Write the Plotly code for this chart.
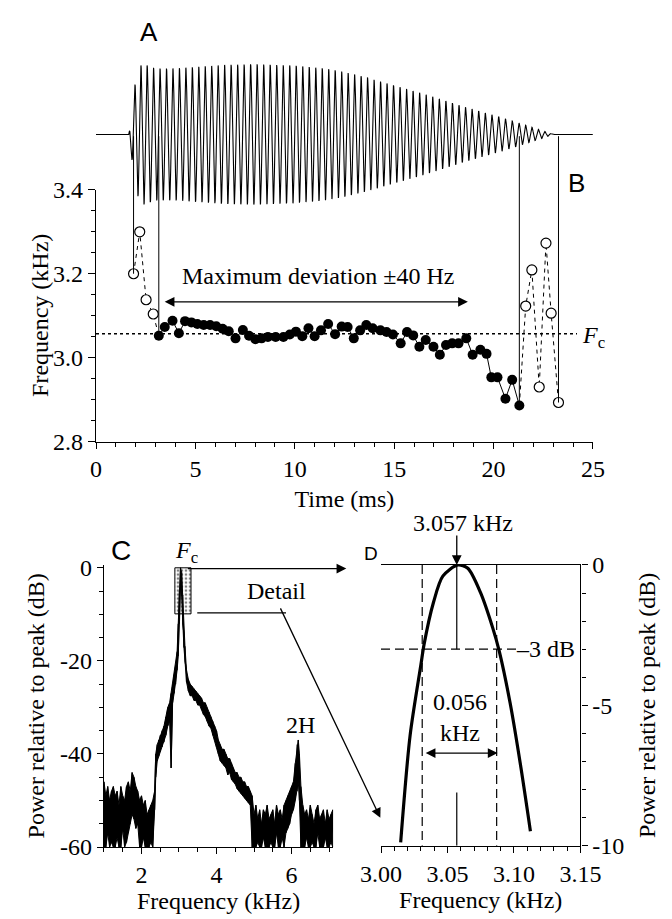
import numpy as np
import plotly.graph_objects as go

W, H = 672, 919
SERIF = "Liberation Serif"
SANS = "Liberation Sans"
FS = 24


def px(x):
    return x / W


def py(y):
    return 1 - y / H


# ---------------- Panel A: waveform envelope ----------------
env_t = [0.0, 1.65, 1.80, 2.00, 2.30, 3.0, 4.0, 5.0, 6.5, 8.0, 10.0, 11.5, 12.5,
         13.5, 14.5, 15.5, 16.5, 17.5, 18.5, 19.5, 20.5, 21.5, 22.5, 23.0, 25.0]
env_a = [0.0, 0.0, 0.35, 0.80, 1.00, 0.93, 0.93, 0.95, 0.98, 0.99, 0.97, 0.93, 0.88,
         0.81, 0.73, 0.65, 0.57, 0.48, 0.39, 0.31, 0.23, 0.14, 0.05, 0.0, 0.0]

# ---------------- Panel B: instantaneous frequency ----------------
open_start_t = [1.89, 2.20, 2.52, 2.88]
open_start_f = [3.200, 3.300, 3.138, 3.104]
filled_t = [3.16, 3.46, 3.85, 4.17, 4.48, 4.80, 5.10, 5.42, 5.74, 6.05, 6.37, 6.68, 7.02,
            7.39, 7.70, 8.02, 8.33, 8.65, 9.04, 9.43, 9.75, 10.06, 10.38, 10.69, 11.00,
            11.32, 11.68, 12.03, 12.36, 12.66, 12.97, 13.29, 13.60, 13.92, 14.31, 14.62,
            14.94, 15.33, 15.65, 15.96, 16.27, 16.59, 16.98, 17.30, 17.61, 17.92, 18.24,
            18.63, 18.95, 19.34, 19.65, 19.89, 20.20, 20.60, 20.94, 21.30]
filled_f = [3.052, 3.073, 3.088, 3.058, 3.087, 3.084, 3.080, 3.078, 3.078, 3.075, 3.069,
            3.063, 3.046, 3.066, 3.052, 3.044, 3.046, 3.049, 3.049, 3.049, 3.055, 3.062,
            3.051, 3.070, 3.051, 3.065, 3.080, 3.056, 3.074, 3.073, 3.046, 3.065, 3.078,
            3.070, 3.065, 3.061, 3.055, 3.034, 3.061, 3.053, 3.026, 3.042, 3.026, 3.007,
            3.030, 3.034, 3.034, 3.046, 3.007, 3.019, 3.009, 2.953, 2.953, 2.902, 2.947,
            2.886]
open_end_t = [21.62, 21.93, 22.30, 22.64, 22.90, 23.27]
open_end_f = [3.123, 3.209, 2.930, 3.273, 3.106, 2.893]
fc_khz = 3.057
fc_line_t = [0.0, 24.2]
dev_arrow_t = [3.38, 18.71]
b_xticks = [0, 5, 10, 15, 20, 25]
b_yticks = [2.8, 3.0, 3.2, 3.4]

# ---------------- Panel C: power spectrum (upper / lower trace excursions) ----------------
c_freq = [1.00, 1.05, 1.10, 1.15, 1.20, 1.25, 1.30, 1.35, 1.40, 1.45, 1.50, 1.55, 1.60, 1.65,
          1.70, 1.75, 1.80, 1.85, 1.90, 1.95, 2.00, 2.05, 2.10, 2.15, 2.20, 2.25, 2.30, 2.35,
          2.38, 2.42, 2.46, 2.50, 2.55, 2.60, 2.65, 2.70, 2.75, 2.79, 2.83, 2.87, 2.91, 2.95,
          2.98, 3.01, 3.04, 3.07, 3.10, 3.13, 3.16, 3.20, 3.25, 3.30, 3.35, 3.40, 3.45, 3.50,
          3.55, 3.60, 3.65, 3.70, 3.75, 3.80, 3.85, 3.90, 3.95, 4.00, 4.05, 4.10, 4.15, 4.20,
          4.25, 4.30, 4.35, 4.40, 4.45, 4.50, 4.55, 4.60, 4.65, 4.70, 4.75, 4.80, 4.85, 4.90,
          4.95, 5.00, 5.05, 5.10, 5.15, 5.20, 5.25, 5.30, 5.35, 5.40, 5.45, 5.50, 5.55, 5.60,
          5.65, 5.70, 5.75, 5.80, 5.85, 5.90, 5.95, 6.00, 6.05, 6.10, 6.15, 6.18, 6.21, 6.25,
          6.30, 6.35, 6.40, 6.45, 6.50, 6.55, 6.60, 6.65, 6.70, 6.75, 6.80, 6.85, 6.90, 6.95,
          7.00, 7.05, 7.10]
c_upper = [-46, -49, -47, -50, -48, -47, -49, -48, -51, -47, -49, -50, -47, -46,
           -48, -44, -45, -47, -48, -50, -49, -51, -50, -53, -52, -51, -50, -48,
           -40, -38, -37, -36, -35, -34, -32, -30, -29, -27, -25, -23, -21, -18,
           -12, -5, 0, -1, -6, -14, -17, -22, -24, -25, -25.5, -26, -26.5, -27,
           -27.5, -28, -29, -29, -30, -31, -32, -33, -34, -35, -37, -38, -39, -39,
           -40, -41, -41, -42, -43, -44, -44, -45, -45, -46, -46, -47, -47, -48,
           -49, -53, -51, -54, -52, -55, -52, -53, -51, -54, -53, -52, -55, -51,
           -53, -52, -54, -51, -50, -49, -48, -47, -46, -42, -38, -37, -40, -47,
           -51, -53, -52, -54, -51, -53, -55, -52, -51, -54, -53, -52, -55, -52,
           -54, -53, -52]
c_lower = [-60, -60, -57, -60, -59, -60, -60, -58, -60, -60, -56, -60, -59, -57,
           -55, -53, -54, -56, -55, -60, -60, -58, -60, -60, -60, -59, -60, -52,
           -45, -41.5, -40.5, -39.5, -38.5, -37.5, -36, -34, -33, -43, -29, -27, -25, -22,
           -19, -12, -4, -6, -12, -17, -20, -24.5, -26.5, -27.5, -27.5, -28.5, -28.5, -29.5,
           -29.5, -30.5, -31.5, -32, -33, -34, -34.5, -36, -37, -38.5, -40, -41.5, -42, -42.5,
           -43, -44.5, -44, -45.5, -46, -46.5, -47.5, -48, -48.5, -49, -49.5, -50, -50.5, -51,
           -60, -60, -60, -59, -60, -60, -58, -60, -60, -60, -59, -60, -60, -57,
           -60, -60, -58, -60, -57, -56, -55, -53, -52, -50, -48, -46, -50, -60,
           -60, -60, -58, -60, -60, -59, -60, -60, -57, -60, -60, -60, -58, -60,
           -60, -59, -60]
detail_box_f = [2.89, 3.32]
detail_box_db = [0.0, -9.9]

# ---------------- Panel D: detail of the peak ----------------
d_freq = [3.0148, 3.0219, 3.0301, 3.0324, 3.0395, 3.0465, 3.0578, 3.0653, 3.0748,
          3.0841, 3.0889, 3.0971, 3.1053, 3.1124]
d_db = [-9.88, -6.07, -3.53, -2.83, -1.33, -0.40, 0.0, -0.12, -0.98, -2.25, -3.06,
        -4.91, -7.23, -9.48]
d_bw = [3.031, 3.087]
d_bw_arrow = [3.0325, 3.0877]
d_minus3_span = [3.0, 3.105]

fig = go.Figure()
BLK = "black"

# waveform (panel A)
all_t = open_start_t + filled_t + open_end_t
all_f = open_start_f + filled_f + open_end_f
t_w = np.linspace(0, 25, 5001)
freq_w = np.interp(t_w, all_t, all_f)
phase = 2 * np.pi * np.concatenate([[0.0], np.cumsum(freq_w[:-1] * np.diff(t_w))])
wave = np.interp(t_w, env_t, env_a) * np.sin(phase)
fig.add_trace(go.Scatter(x=t_w, y=wave, mode="lines", line=dict(color=BLK, width=1.1),
                         xaxis="x", yaxis="y3", hoverinfo="skip"))

# connectors from the waveform down to panel B
WAVE_BASE = 3.528
for t, f in [(open_start_t[0], open_start_f[0]), (filled_t[0], filled_f[0]),
             (filled_t[-1], filled_f[-1]), (open_end_t[-1], open_end_f[-1])]:
    fig.add_trace(go.Scatter(x=[t, t], y=[f, WAVE_BASE], mode="lines",
                             line=dict(color=BLK, width=1), xaxis="x", yaxis="y2",
                             hoverinfo="skip"))

# Fc dotted line
fig.add_trace(go.Scatter(x=fc_line_t, y=[fc_khz, fc_khz], mode="lines",
                         line=dict(color=BLK, width=1.6, dash="dot"), xaxis="x", yaxis="y"))
# dashed links of open circles
fig.add_trace(go.Scatter(x=open_start_t + [filled_t[0]], y=open_start_f + [filled_f[0]],
                         mode="lines", line=dict(color=BLK, width=1, dash="4px,4px"),
                         xaxis="x", yaxis="y"))
fig.add_trace(go.Scatter(x=[filled_t[-1]] + open_end_t, y=[filled_f[-1]] + open_end_f,
                         mode="lines", line=dict(color=BLK, width=1, dash="4px,4px"),
                         xaxis="x", yaxis="y"))
# filled points
fig.add_trace(go.Scatter(x=filled_t, y=filled_f, mode="lines+markers",
                         line=dict(color=BLK, width=1),
                         marker=dict(color=BLK, size=10), xaxis="x", yaxis="y"))
# open circles
fig.add_trace(go.Scatter(x=open_start_t + open_end_t, y=open_start_f + open_end_f,
                         mode="markers",
                         marker=dict(color="white", size=10, line=dict(color=BLK, width=1.2)),
                         xaxis="x", yaxis="y"))

# panel C: detail box
fig.add_trace(go.Scatter(
    x=[detail_box_f[0], detail_box_f[1], detail_box_f[1], detail_box_f[0], detail_box_f[0]],
    y=[detail_box_db[0], detail_box_db[0], detail_box_db[1], detail_box_db[1], detail_box_db[0]],
    mode="lines", fill="toself", line=dict(color=BLK, width=1),
    fillcolor="white",
    fillpattern=dict(shape=".", fgcolor=BLK, bgcolor="white", size=4, solidity=0.35),
    xaxis="x2", yaxis="y4"))
# panel C: spectrum trace (band between lower and upper excursions)
fig.add_trace(go.Scatter(x=c_freq, y=c_lower, mode="lines", line=dict(color=BLK, width=1),
                         xaxis="x2", yaxis="y4"))
fig.add_trace(go.Scatter(x=c_freq, y=c_upper, mode="lines", line=dict(color=BLK, width=1),
                         fill="tonexty", fillcolor=BLK, xaxis="x2", yaxis="y4"))
cx, cy = [], []
for f, u, lo in zip(c_freq, c_upper, c_lower):
    cx += [f, f]
    cy += [u, lo]
fig.add_trace(go.Scatter(x=cx, y=cy, mode="lines", line=dict(color=BLK, width=1.2),
                         xaxis="x2", yaxis="y4"))

# panel D
for f in d_bw:
    fig.add_trace(go.Scatter(x=[f, f], y=[0, -10], mode="lines",
                             line=dict(color=BLK, width=1.2, dash="9px,5px"),
                             xaxis="x3", yaxis="y5"))
fig.add_trace(go.Scatter(x=d_minus3_span, y=[-3, -3], mode="lines",
                         line=dict(color=BLK, width=1.2, dash="9px,5px"),
                         xaxis="x3", yaxis="y5"))
fig.add_trace(go.Scatter(x=[fc_khz, fc_khz], y=[0, -3], mode="lines",
                         line=dict(color=BLK, width=1.2), xaxis="x3", yaxis="y5"))
fig.add_trace(go.Scatter(x=[fc_khz, fc_khz], y=[-8.1, -10], mode="lines",
                         line=dict(color=BLK, width=1.2), xaxis="x3", yaxis="y5"))
fig.add_trace(go.Scatter(x=d_freq, y=d_db, mode="lines",
                         line=dict(color=BLK, width=3.2, shape="spline", smoothing=0.8),
                         xaxis="x3", yaxis="y5"))

tickfont = dict(family=SERIF, size=FS, color=BLK)
titlefont = dict(family=SERIF, size=FS, color=BLK)

common = dict(showgrid=False, zeroline=False, linecolor=BLK, linewidth=1.2,
              tickcolor=BLK, tickwidth=1.2, tickfont=tickfont, ticks="outside")

fig.update_layout(
    width=W, height=H, margin=dict(l=0, r=0, t=0, b=0),
    paper_bgcolor="white", plot_bgcolor="rgba(0,0,0,0)", showlegend=False,
    font=dict(family=SERIF, size=FS, color=BLK),
    xaxis=dict(domain=[px(80), px(610)], range=[0, 25], anchor="y", showline=True,
               tickmode="array", tickvals=b_xticks, ticklen=6,
               minor=dict(tickvals=[v for v in range(26) if v % 5], ticklen=4,
                          ticks="outside", tickcolor=BLK, tickwidth=1),
               title=dict(text="Time (ms)", font=titlefont, standoff=8), **common),
    yaxis=dict(domain=[py(441), py(182)], range=[2.8, 3.4], anchor="x", showline=True,
               tickmode="array", tickvals=b_yticks,
               ticktext=[f"{v:.1f}" for v in b_yticks], ticklen=7,
               minor=dict(tickvals=[2.85, 2.9, 2.95, 3.05, 3.1, 3.15, 3.25, 3.3, 3.35],
                          ticklen=4, ticks="outside", tickcolor=BLK, tickwidth=1),
               **common),
    yaxis2=dict(domain=[py(441), py(40)], range=[2.8, 3.729], anchor="x", visible=False),
    yaxis3=dict(overlaying="y2", range=[-4.33, 1.164], anchor="x", visible=False),
    xaxis2=dict(domain=[px(88.5), px(333)], range=[1, 7.11], anchor="y4", showline=True,
                tickmode="array", tickvals=[2, 4, 6], ticklen=6,
                minor=dict(tickvals=[1, 1.5, 2.5, 3, 3.5, 4.5, 5, 5.5, 6.5, 7], ticklen=4,
                           ticks="outside", tickcolor=BLK, tickwidth=1),
                title=dict(text="Frequency (kHz)", font=titlefont, standoff=4), **common),
    yaxis4=dict(domain=[py(858.3), py(567.6)], range=[-60, 0.7], anchor="x2", showline=True,
                tickmode="array", tickvals=[0, -20, -40, -60],
                ticktext=["0", "-20", "-40", "-60"], ticklen=6,
                minor=dict(tickvals=[-5, -10, -15, -25, -30, -35, -45, -50, -55], ticklen=4,
                           ticks="outside", tickcolor=BLK, tickwidth=1),
                title=dict(text="Power relative to peak (dB)", font=titlefont, standoff=8),
                **common),
    xaxis3=dict(domain=[px(384), px(596.7)], range=[3.0, 3.15], anchor="y5", showline=True,
                mirror=True, tickmode="array", tickvals=[3.0, 3.05, 3.1, 3.15],
                ticktext=["3.00", "3.05", "3.10", "3.15"], ticklen=6,
                minor=dict(tickvals=[3.01, 3.02, 3.03, 3.04, 3.06, 3.07, 3.08, 3.09,
                                     3.11, 3.12, 3.13, 3.14], ticklen=4, ticks="outside",
                           tickcolor=BLK, tickwidth=1),
                title=dict(text="Frequency (kHz)", font=titlefont, standoff=4), **common),
    yaxis5=dict(domain=[py(857), py(568)], range=[-10, 0], anchor="x3", side="right",
                showline=True, tickmode="array", tickvals=[0, -5, -10],
                ticktext=["0", "-5", "-10"], ticklen=6,
                minor=dict(tickvals=[-1, -2, -3, -4, -6, -7, -8, -9], ticklen=4,
                           ticks="outside", tickcolor=BLK, tickwidth=1),
                title=dict(text="Power relative to peak (dB)", font=titlefont, standoff=14),
                **common),
)

ann = []


def txt(text, x, y, xref="paper", yref="paper", font=None, xanchor="center", **kw):
    ann.append(dict(text=text, x=x, y=y, xref=xref, yref=yref, showarrow=False,
                    xanchor=xanchor, yanchor="middle",
                    font=font or dict(family=SERIF, size=FS, color=BLK), **kw))


sans = lambda s: dict(family=SANS, size=s, color=BLK)
txt("A", px(137), py(20), font=sans(26))
txt("B", px(593), py(175), font=sans(26))
txt("C", px(106.7), py(553), font=sans(28))
txt("D", px(373.3), py(556.7), font=sans(19))
txt("Frequency (kHz)", px(20), py(311), textangle=-90)
txt("Maximum deviation ±40 Hz", 11.18, 3.195, xref="x", yref="y")
txt("<i>F</i><sub>c</sub>", 24.35, 3.05, xref="x", yref="y", xanchor="left")
txt("<i>F</i><sub>c</sub>", px(176.7), py(555))
txt("Detail", px(273), py(595))
txt("2H", px(298), py(733))
txt("3.057 kHz", px(471.7), py(525))
txt("–3 dB", 3.124, -3, xref="x3", yref="y5")
txt("0.056<br>kHz", 3.0595, -5.45, xref="x3", yref="y5")

arrow = dict(showarrow=True, arrowhead=2, arrowsize=1.5, arrowwidth=1.3, arrowcolor=BLK,
             text="")
# B double arrow
ann.append(dict(x=dev_arrow_t[1], y=3.133, ax=dev_arrow_t[0], ay=3.133, xref="x", yref="y",
                axref="x", ayref="y", arrowside="end+start", **arrow))
# C -> D arrows
ann.append(dict(x=px(347), y=py(571.7), ax=-160, ay=0, xref="paper", yref="paper", **arrow))
ann.append(dict(x=px(383.3), y=py(828.3), ax=-100.6, ay=-211, xref="paper", yref="paper",
                **arrow))
# D arrows
ann.append(dict(x=fc_khz, y=0, ax=0, ay=-31, xref="x3", yref="y5", **arrow))
ann.append(dict(x=d_bw_arrow[1], y=-6.7, ax=d_bw_arrow[0], ay=-6.7, xref="x3", yref="y5",
                axref="x3", ayref="y5", arrowside="end+start", **arrow))
fig.update_layout(annotations=ann)

fig.add_shape(type="line", xref="paper", yref="paper", x0=px(188), x1=px(282.7),
              y0=py(617.3), y1=py(617.3), line=dict(color=BLK, width=1.3))

fig.write_html("out.html")
